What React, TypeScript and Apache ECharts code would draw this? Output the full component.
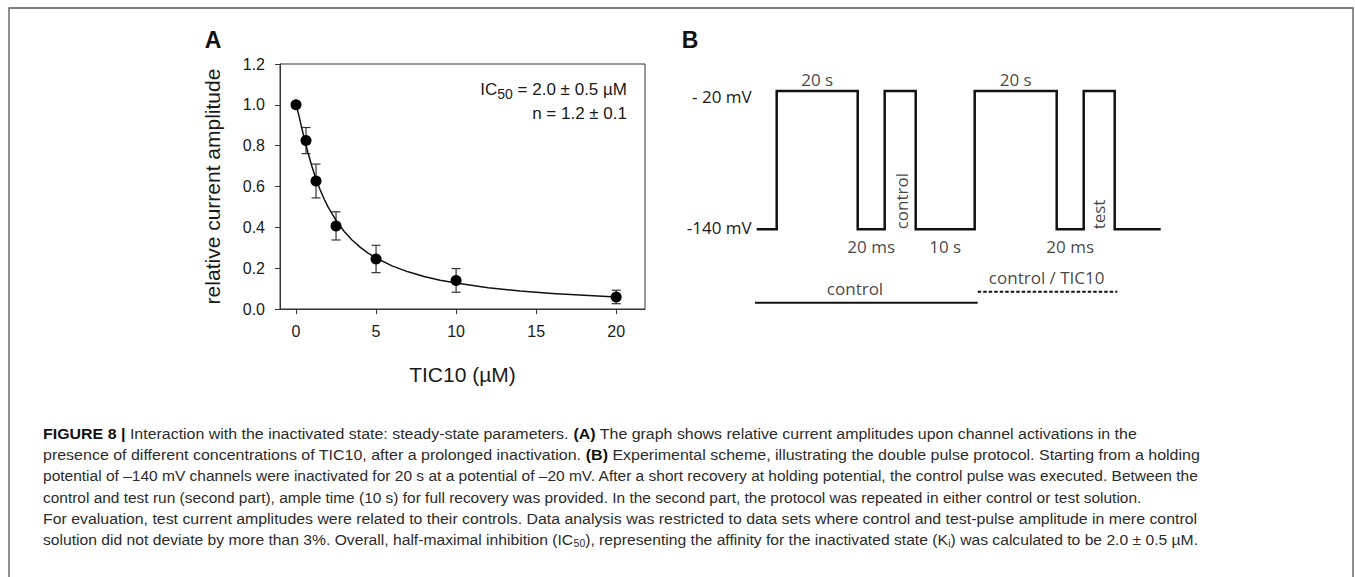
import React, { useEffect, useRef } from 'react';
import * as echarts from 'echarts';

// ---------- Panel A data ----------
const concentrations = [0, 0.625, 1.25, 2.5, 5, 10, 20];
const relAmplitude = [1.0, 0.825, 0.627, 0.407, 0.245, 0.14, 0.059];
const amplitudeSem = [0, 0.064, 0.083, 0.069, 0.067, 0.058, 0.033];
const fitConc = [0, 0.05, 0.1, 0.2, 0.3, 0.4, 0.5, 0.625, 0.75, 1, 1.25, 1.5, 1.75, 2, 2.5, 3, 3.5, 4, 4.5, 5, 6, 7, 8, 9, 10, 12, 14, 16, 18, 20];
const fitAmp = [1.0, 0.988, 0.973, 0.941, 0.907, 0.873, 0.841, 0.802, 0.764, 0.697, 0.637, 0.585, 0.54, 0.5, 0.434, 0.381, 0.338, 0.303, 0.274, 0.25, 0.211, 0.182, 0.159, 0.141, 0.127, 0.104, 0.088, 0.076, 0.067, 0.059];
const xTicksA = [0, 5, 10, 15, 20];

// ---------- Panel B data (schematic time units) ----------
const protocolTime = [0, 20, 101, 128, 159, 218, 300, 327, 358, 404];
const protocolVoltage = [-140, -20, -140, -20, -140, -20, -140, -20, -140, -140];
const voltageTicks = [-20, -140];
const voltageTickLabels = ['- 20 mV', '-140 mV'];
const durationTexts = ['20 s', '20 ms', '10 s', '20 s', '20 ms'];
const durationTimes = [60.5, 114.5, 188.5, 259, 313.5];
const durationLevels = [-20, -140, -140, -20, -140];
const pulseNames = ['control', 'test'];
const pulseNameTimes = [146.6, 344];
const phaseNames = ['control', 'control / TIC10'];
const phaseStart = [-42.4, 221];
const phaseEnd = [221, 360.6];
const phaseLabelTimes = [98.3, 290];

// ---------- Caption ----------
const captionLines: [string, string][][] = [
  [['b', 'FIGURE 8 |'], ['n', ' Interaction with the inactivated state: steady-state parameters. '], ['b', '(A)'], ['n', ' The graph shows relative current amplitudes upon channel activations in the']],
  [['n', 'presence of different concentrations of TIC10, after a prolonged inactivation. '], ['b', '(B)'], ['n', ' Experimental scheme, illustrating the double pulse protocol. Starting from a holding']],
  [['n', 'potential of \u2013140 mV channels were inactivated for 20 s at a potential of \u201320 mV. After a short recovery at holding potential, the control pulse was executed. Between the']],
  [['n', 'control and test run (second part), ample time (10 s) for full recovery was provided. In the second part, the protocol was repeated in either control or test solution.']],
  [['n', 'For evaluation, test current amplitudes were related to their controls. Data analysis was restricted to data sets where control and test-pulse amplitude in mere control']],
  [['n', 'solution did not deviate by more than 3%. Overall, half-maximal inhibition (IC'], ['s', '50'], ['n', '), representing the affinity for the inactivated state (K'], ['s', 'i'], ['n', ') was calculated to be 2.0 \u00b1 0.5 \u00b5M.']],
];
const captionLineEnds = [1138, 1200, 1200, 1142, 1198, 1198];
const captionLineY = [433.3, 455, 476, 497.3, 518.3, 539.3];

const FA = "'Liberation Sans', Arial, sans-serif";
const FB = "'Open Sans', 'Noto Sans', sans-serif";
const CAP_SIZE = 15;
const SUB_SIZE = 10;

function measureSegments(segs: [string, string][]): number {
  const c = document.createElement('canvas');
  const ctx = c.getContext('2d');
  if (!ctx) return 1;
  let w = 0;
  for (const [k, t] of segs) {
    if (k === 'b') ctx.font = `normal bold ${CAP_SIZE}px ${FA}`;
    else if (k === 's') ctx.font = `normal normal ${SUB_SIZE}px ${FA}`;
    else ctx.font = `normal normal ${CAP_SIZE}px ${FA}`;
    w += ctx.measureText(t).width;
  }
  return w;
}

export default function App() {
  const ref = useRef<HTMLDivElement>(null);
  useEffect(() => {
    if (!ref.current) return;
    const chart = echarts.init(ref.current, null, { renderer: 'svg' });

    const errData = concentrations
      .map((c, i) => [c, relAmplitude[i] - amplitudeSem[i], relAmplitude[i] + amplitudeSem[i]])
      .filter((_, i) => amplitudeSem[i] > 0);

    const captionGraphics = captionLines.map((segs, i) => {
      const natural = measureSegments(segs);
      const target = captionLineEnds[i] - 43;
      const s = natural > 0 ? target / natural : 1;
      return {
        type: 'text',
        x: 43,
        y: captionLineY[i],
        scaleX: s,
        silent: true,
        style: {
          text: segs.map(([k, t]) => `{${k}|${t}}`).join(''),
          fontFamily: FA,
          fontSize: CAP_SIZE,
          lineHeight: 15,
          fill: '#2b2b2b',
          align: 'left',
          verticalAlign: 'middle',
          rich: {
            n: { fontFamily: FA, fontSize: CAP_SIZE, lineHeight: 15, fill: '#2b2b2b' },
            b: { fontFamily: FA, fontSize: CAP_SIZE, lineHeight: 15, fontWeight: 'bold', fill: '#111' },
            s: { fontFamily: FA, fontSize: SUB_SIZE, lineHeight: 10, padding: [8, 0, 0, 0], fill: '#2b2b2b' },
          },
        },
      };
    });

    const option: any = {
      animation: false,
      backgroundColor: '#fff',
      grid: [
        { left: 280, top: 64, width: 365, height: 245, show: true, borderColor: '#333', borderWidth: 1, containLabel: false, outerBoundsMode: 'none' },
        { left: 756.7, top: 68, width: 404, height: 184.4, containLabel: false, outerBoundsMode: 'none' },
        { left: 756.7, top: 291.7, width: 404, height: 11, containLabel: false, outerBoundsMode: 'none' },
      ],
      xAxis: [
        {
          gridIndex: 0, type: 'value', min: -1, max: 21.8,
          axisLine: { show: true, onZero: false, lineStyle: { color: '#333', width: 1 } },
          axisTick: { show: true, customValues: xTicksA, length: 5, lineStyle: { color: '#333', width: 1 } },
          axisLabel: { customValues: xTicksA, margin: 14, fontSize: 16, fontFamily: FA, color: '#1a1a1a' },
          splitLine: { show: false },
          name: 'TIC10 (\u00b5M)', nameLocation: 'middle', nameGap: 55,
          nameTextStyle: { fontSize: 21, fontFamily: FA, color: '#1a1a1a' },
        },
        { gridIndex: 1, type: 'value', min: 0, max: 404, show: false },
        { gridIndex: 2, type: 'value', min: 0, max: 404, show: false },
      ],
      yAxis: [
        {
          gridIndex: 0, type: 'value', min: 0, max: 1.2, interval: 0.2,
          axisLine: { show: true, onZero: false, lineStyle: { color: '#333', width: 1 } },
          axisTick: { show: true, length: 5, lineStyle: { color: '#333', width: 1 } },
          axisLabel: { margin: 15, fontSize: 16, fontFamily: FA, color: '#1a1a1a', formatter: (v: number) => v.toFixed(1) },
          splitLine: { show: false },
          name: 'relative current amplitude', nameLocation: 'middle', nameGap: 57, nameRotate: 90,
          nameTextStyle: { fontSize: 21, fontFamily: FA, color: '#1a1a1a' },
        },
        {
          gridIndex: 1, type: 'value', min: -160, max: 0,
          axisLine: { show: false }, axisTick: { show: false }, splitLine: { show: false },
          axisLabel: {
            customValues: voltageTicks, margin: 5, fontSize: 17, fontFamily: FB, color: '#1a1a1a',
            formatter: (v: number) => {
              const i = voltageTicks.indexOf(v);
              const t = i >= 0 ? voltageTickLabels[i] : '';
              return v === -20 ? `{hi|${t}}` : `{lo|${t}}`;
            },
            rich: {
              hi: { fontSize: 17, fontFamily: FB, color: '#1a1a1a', padding: [10, 0, 0, 0] },
              lo: { fontSize: 17, fontFamily: FB, color: '#1a1a1a', padding: [0, 0, 4, 0] },
            },
          },
        },
        { gridIndex: 2, type: 'value', min: 0, max: 1, show: false },
      ],
      series: [
        {
          type: 'custom', xAxisIndex: 0, yAxisIndex: 0, silent: true, z: 2,
          data: errData,
          encode: { x: 0, y: [1, 2] },
          renderItem: (params: any, api: any) => {
            const x = api.value(0);
            const pLo = api.coord([x, api.value(1)]);
            const pHi = api.coord([x, api.value(2)]);
            const w = 4.5;
            const style = { stroke: '#333', lineWidth: 1.2, fill: 'none' };
            return {
              type: 'group',
              children: [
                { type: 'line', shape: { x1: pLo[0], y1: pLo[1], x2: pHi[0], y2: pHi[1] }, style },
                { type: 'line', shape: { x1: pLo[0] - w, y1: pLo[1], x2: pLo[0] + w, y2: pLo[1] }, style },
                { type: 'line', shape: { x1: pHi[0] - w, y1: pHi[1], x2: pHi[0] + w, y2: pHi[1] }, style },
              ],
            };
          },
        },
        {
          type: 'line', xAxisIndex: 0, yAxisIndex: 0, silent: true, z: 3,
          data: fitConc.map((c, i) => [c, fitAmp[i]]),
          showSymbol: false, smooth: false,
          lineStyle: { color: '#111', width: 1.5, join: 'round' },
        },
        {
          type: 'scatter', xAxisIndex: 0, yAxisIndex: 0, silent: true, z: 4,
          data: concentrations.map((c, i) => [c, relAmplitude[i]]),
          symbol: 'circle', symbolSize: 11,
          itemStyle: { color: '#000', opacity: 1 },
        },
        {
          type: 'line', xAxisIndex: 1, yAxisIndex: 1, silent: true,
          data: protocolTime.map((t, i) => [t, protocolVoltage[i]]),
          step: 'end', showSymbol: false,
          lineStyle: { color: '#111', width: 2.5, join: 'miter', cap: 'butt' },
        },
        {
          type: 'scatter', xAxisIndex: 1, yAxisIndex: 1, silent: true, symbolSize: 0,
          data: durationTexts.map((t, i) => ({
            value: [durationTimes[i], durationLevels[i]],
            name: t,
            label: durationLevels[i] === -20 ? { position: 'top', distance: 3 } : { position: 'bottom', distance: 9 },
          })),
          label: { show: true, formatter: (p: any) => p.name, fontSize: 17, fontFamily: FB, color: '#111' },
        },
        {
          type: 'scatter', xAxisIndex: 1, yAxisIndex: 1, silent: true, symbolSize: 0,
          data: pulseNames.map((t, i) => ({ value: [pulseNameTimes[i], -140], name: t })),
          label: {
            show: true, formatter: (p: any) => p.name, fontSize: 17, fontFamily: FB, color: '#111',
            position: 'inside', rotate: 90, align: 'left', verticalAlign: 'middle', offset: [0, -2],
          },
        },
        {
          type: 'line', xAxisIndex: 2, yAxisIndex: 2, silent: true, clip: false,
          data: [[phaseStart[0], 0], [phaseEnd[0], 0]], showSymbol: false,
          lineStyle: { color: '#111', width: 2 },
        },
        {
          type: 'line', xAxisIndex: 2, yAxisIndex: 2, silent: true, clip: false,
          data: [[phaseStart[1], 1], [phaseEnd[1], 1]], showSymbol: false,
          lineStyle: { color: '#111', width: 2, type: [3.5, 2] },
        },
        {
          type: 'scatter', xAxisIndex: 2, yAxisIndex: 2, silent: true, symbolSize: 0,
          data: phaseNames.map((t, i) => ({ value: [phaseLabelTimes[i], i], name: t })),
          label: { show: true, position: 'top', distance: 6, formatter: (p: any) => p.name, fontSize: 17, fontFamily: FB, color: '#111' },
        },
      ],
      graphic: [
        { type: 'rect', silent: true, shape: { x: 9, y: 8, width: 1344, height: 620 }, style: { fill: 'none', stroke: '#555', lineWidth: 1.3 } },
        { type: 'text', x: 213, y: 40, silent: true, style: { text: 'A', fontFamily: FA, fontSize: 23, fontWeight: 'bold', fill: '#111', align: 'center', verticalAlign: 'middle' } },
        { type: 'text', x: 690, y: 40, silent: true, style: { text: 'B', fontFamily: FA, fontSize: 23, fontWeight: 'bold', fill: '#111', align: 'center', verticalAlign: 'middle' } },
        {
          type: 'text', x: 627, y: 89, silent: true,
          style: {
            text: '{m|IC}{s|50}{m| = 2.0 \u00b1 0.5 \u00b5M}', fontFamily: FA, fontSize: 17, fill: '#1a1a1a', align: 'right', verticalAlign: 'middle',
            rich: {
              m: { fontFamily: FA, fontSize: 17, lineHeight: 17, fill: '#1a1a1a' },
              s: { fontFamily: FA, fontSize: 14, lineHeight: 14, padding: [10, 0, 0, 0], fill: '#1a1a1a' },
            },
          },
        },
        { type: 'text', x: 627, y: 113, silent: true, style: { text: 'n = 1.2 \u00b1 0.1', fontFamily: FA, fontSize: 17, fill: '#1a1a1a', align: 'right', verticalAlign: 'middle' } },
        ...captionGraphics,
      ],
    };
    chart.setOption(option);
    return () => chart.dispose();
  }, []);
  return <div ref={ref} style={{ position: 'fixed', left: 0, top: 0, width: 1355, height: 577, background: '#fff' }} />;
}
